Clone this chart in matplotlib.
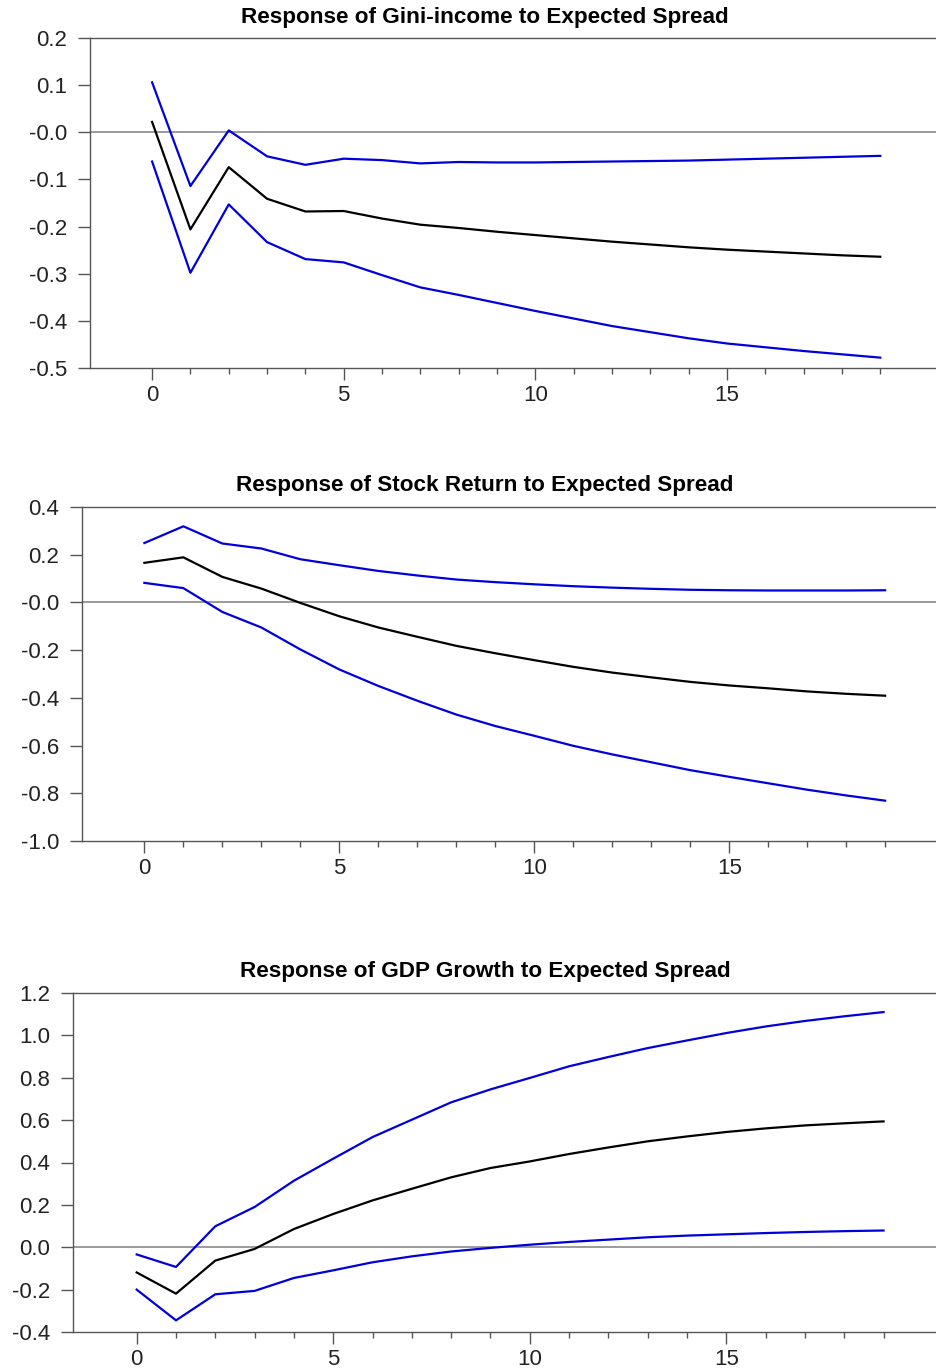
import numpy as np
import matplotlib
matplotlib.use('Agg')
import matplotlib.pyplot as plt
from matplotlib.ticker import FixedLocator

plt.rcParams['font.family'] = ['Liberation Sans', 'DejaVu Sans']

periods = list(range(20))

# Response of Gini-income
gini_irf = [0.022, -0.206, -0.074, -0.141, -0.168, -0.167, -0.183, -0.196, -0.203, -0.211,
            -0.218, -0.225, -0.232, -0.238, -0.244, -0.249, -0.253, -0.257, -0.261, -0.264]
gini_hi = [0.106, -0.114, 0.004, -0.051, -0.069, -0.056, -0.059, -0.066, -0.063, -0.064,
           -0.064, -0.063, -0.062, -0.061, -0.060, -0.058, -0.056, -0.054, -0.052, -0.050]
gini_lo = [-0.062, -0.298, -0.153, -0.233, -0.269, -0.276, -0.303, -0.329, -0.345, -0.362,
           -0.379, -0.395, -0.411, -0.424, -0.437, -0.448, -0.456, -0.464, -0.471, -0.478]

# Response of Stock Return
stock_irf = [0.166, 0.189, 0.107, 0.058, -0.002, -0.058, -0.105, -0.144, -0.182, -0.213,
             -0.242, -0.270, -0.294, -0.314, -0.333, -0.348, -0.360, -0.373, -0.383, -0.391]
stock_hi = [0.249, 0.319, 0.247, 0.226, 0.181, 0.156, 0.132, 0.113, 0.096, 0.085,
            0.076, 0.068, 0.062, 0.057, 0.053, 0.051, 0.050, 0.050, 0.050, 0.051]
stock_lo = [0.082, 0.060, -0.040, -0.105, -0.197, -0.281, -0.350, -0.412, -0.470, -0.518,
            -0.559, -0.601, -0.637, -0.670, -0.703, -0.731, -0.758, -0.785, -0.809, -0.831]

# Response of GDP Growth
gdp_irf = [-0.119, -0.219, -0.063, -0.008, 0.086, 0.157, 0.221, 0.276, 0.330, 0.374,
           0.405, 0.440, 0.471, 0.500, 0.523, 0.544, 0.561, 0.575, 0.585, 0.594]
gdp_hi = [-0.034, -0.093, 0.099, 0.190, 0.314, 0.418, 0.520, 0.602, 0.684, 0.745,
          0.799, 0.854, 0.898, 0.940, 0.976, 1.011, 1.042, 1.068, 1.090, 1.110]
gdp_lo = [-0.200, -0.345, -0.222, -0.206, -0.145, -0.109, -0.071, -0.043, -0.020, -0.003,
          0.012, 0.025, 0.036, 0.047, 0.055, 0.061, 0.067, 0.072, 0.076, 0.079]

titles = ['Response of Gini-income to Expected Spread',
          'Response of Stock Return to Expected Spread',
          'Response of GDP Growth to Expected Spread']

gini_yticks = [0.2, 0.1, 0.0, -0.1, -0.2, -0.3, -0.4, -0.5]
gini_ylabels = ['0.2', '0.1', '-0.0', '-0.1', '-0.2', '-0.3', '-0.4', '-0.5']
stock_yticks = [0.4, 0.2, 0.0, -0.2, -0.4, -0.6, -0.8, -1.0]
stock_ylabels = ['0.4', '0.2', '-0.0', '-0.2', '-0.4', '-0.6', '-0.8', '-1.0']
gdp_yticks = [1.2, 1.0, 0.8, 0.6, 0.4, 0.2, 0.0, -0.2, -0.4]
gdp_ylabels = ['1.2', '1.0', '0.8', '0.6', '0.4', '0.2', '0.0', '-0.2', '-0.4']

W, H = 937, 1372
# pixel boxes: left, top, bottom (right is the figure edge)
boxes = [(90, 38, 368), (82, 507, 841), (73, 993, 1332)]
xlims = [(-1.62, 20.48), (-1.60, 20.33), (-1.62, 20.36)]
title_y = [18, 486, 972]

panels = [
    (gini_irf, gini_hi, gini_lo, gini_yticks, gini_ylabels),
    (stock_irf, stock_hi, stock_lo, stock_yticks, stock_ylabels),
    (gdp_irf, gdp_hi, gdp_lo, gdp_yticks, gdp_ylabels),
]

fig = plt.figure(figsize=(W / 100, H / 100), dpi=100)
fig.patch.set_facecolor('white')

spine_col = '#555555'
blue = '#0000dd'

for i, (irf, hi, lo, yt, yl) in enumerate(panels):
    left, top, bottom = boxes[i]
    ax = fig.add_axes([left / W, 1 - bottom / H, (W - left) / W, (bottom - top) / H])

    ax.axhline(0, color='#808080', lw=1.1, zorder=1)
    ax.plot(periods, hi, color=blue, lw=1.6, zorder=3)
    ax.plot(periods, lo, color=blue, lw=1.6, zorder=3)
    ax.plot(periods, irf, color='black', lw=1.6, zorder=4)

    ax.set_xlim(*xlims[i])
    ax.set_ylim(min(yt), max(yt))

    ax.spines['right'].set_visible(False)
    for s in ['left', 'top', 'bottom']:
        ax.spines[s].set_color(spine_col)
        ax.spines[s].set_linewidth(1.0)

    ax.yaxis.set_major_locator(FixedLocator(yt))
    ax.set_yticklabels(yl)
    ax.xaxis.set_major_locator(FixedLocator([0, 5, 10, 15]))
    ax.xaxis.set_minor_locator(FixedLocator(periods))
    ax.set_xticklabels(['0', '5', '10', '15'])

    ax.tick_params(axis='y', which='major', direction='out', length=8.5, width=1.0,
                   color=spine_col, labelsize=16, pad=8, labelcolor='#222222')
    ax.tick_params(axis='x', which='major', direction='out', length=8.5, width=1.0,
                   color=spine_col, labelsize=16, pad=4, labelcolor='#222222')
    ax.tick_params(axis='x', which='minor', direction='out', length=4, width=1.0,
                   color=spine_col)

    fig.text(485 / W, 1 - title_y[i] / H, titles[i], ha='center', va='center',
             fontsize=16.2, fontweight='bold', color='black')

fig.savefig('out.png', dpi=100, facecolor='white')
